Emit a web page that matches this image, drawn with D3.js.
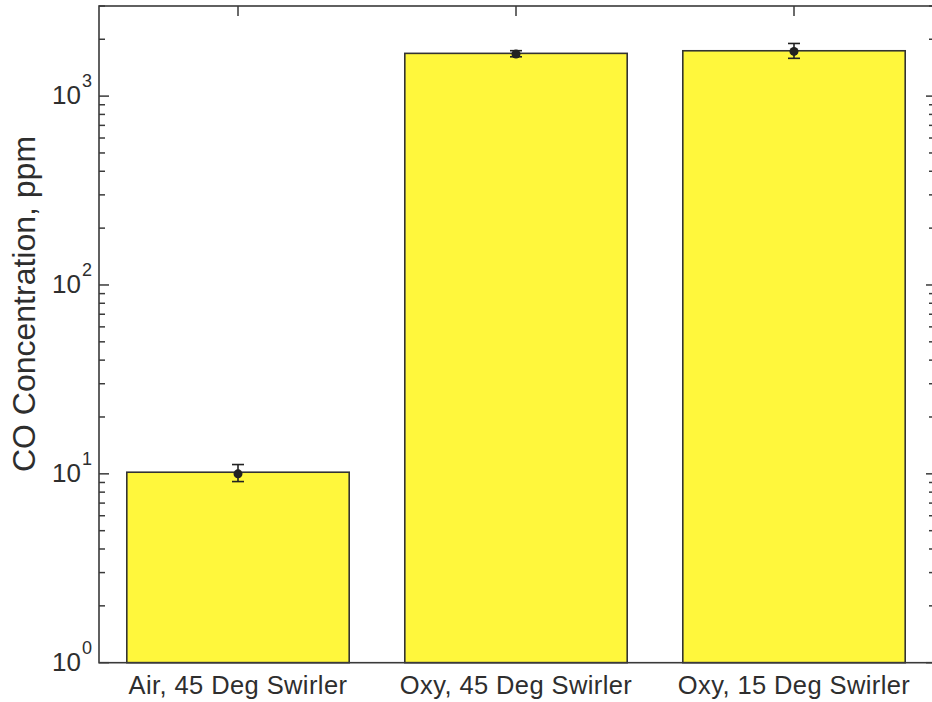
<!DOCTYPE html>
<html>
<head>
<meta charset="utf-8">
<script src="https://cdn.jsdelivr.net/npm/d3@7"></script>
<style>
  html, body { margin: 0; padding: 0; background: #fff; }
  svg { display: block; font-family: "Liberation Sans", Arial, Helvetica, sans-serif; }
</style>
</head>
<body>
<svg id="chart" width="932" height="702"></svg>
<script>
// CO concentration measured for three burner configurations
const categories = ["Air, 45 Deg Swirler", "Oxy, 45 Deg Swirler", "Oxy, 15 Deg Swirler"];
const barValues  = [10.2, 1684, 1738];   // bar heights, ppm
const meanValues = [10.0, 1672, 1725];   // measured mean, ppm
const errLow     = [9.1, 1615, 1585];    // lower end of error bar, ppm
const errHigh    = [11.2, 1740, 1900];   // upper end of error bar, ppm
const yDomain    = [1, 3000];
const yMajorTicks = [1, 10, 100, 1000];
const yTickExponents = ["0", "1", "2", "3"];
const yTitle = "CO Concentration, ppm";

const svg = d3.select("#chart");
const margin = { left: 99, right: 933, top: 6, bottom: 662.7 };

const x = d3.scaleBand()
  .domain(categories)
  .range([margin.left, margin.right])
  .paddingInner(0.2)
  .paddingOuter(0.1);

const y = d3.scaleLog()
  .domain(yDomain)
  .range([margin.bottom, margin.top]);

const axisColor = "#3a3a3a";
const textColor = "#2e2e2e";

// minor ticks: 2..9 of each decade inside the domain
const minorTicks = [];
for (let p = 0; p <= 3; p++) {
  for (let m = 2; m <= 9; m++) {
    const v = m * Math.pow(10, p);
    if (v <= yDomain[1]) minorTicks.push(v);
  }
}

// category ticks on top and bottom edges (bottom ones sit behind the bars)
const xTicks = svg.append("g");
x.domain().forEach(c => {
  const cx = x(c) + x.bandwidth() / 2;
  xTicks.append("line").attr("x1", cx).attr("x2", cx)
    .attr("y1", margin.top).attr("y2", margin.top + 10)
    .attr("stroke", axisColor).attr("stroke-width", 1.5);
  xTicks.append("line").attr("x1", cx).attr("x2", cx)
    .attr("y1", margin.bottom).attr("y2", margin.bottom - 10)
    .attr("stroke", axisColor).attr("stroke-width", 1.5);
});

// bars
svg.append("g").selectAll("rect")
  .data(categories)
  .join("rect")
  .attr("x", d => x(d))
  .attr("width", x.bandwidth())
  .attr("y", (d, i) => y(barValues[i]))
  .attr("height", (d, i) => y(yDomain[0]) - y(barValues[i]))
  .attr("fill", "#fff73c")
  .attr("stroke", "#333")
  .attr("stroke-width", 1.6);

// left and right y ticks, pointing inward
const yTicksG = svg.append("g").attr("stroke", axisColor).attr("stroke-width", 1.5);
yMajorTicks.forEach(v => {
  yTicksG.append("line").attr("x1", margin.left).attr("x2", margin.left + 10)
    .attr("y1", y(v)).attr("y2", y(v));
  yTicksG.append("line").attr("x1", margin.right).attr("x2", margin.right - 7)
    .attr("y1", y(v)).attr("y2", y(v));
});
minorTicks.forEach(v => {
  yTicksG.append("line").attr("x1", margin.left).attr("x2", margin.left + 6)
    .attr("y1", y(v)).attr("y2", y(v));
  yTicksG.append("line").attr("x1", margin.right).attr("x2", margin.right - 4)
    .attr("y1", y(v)).attr("y2", y(v));
});

// plot frame
svg.append("rect")
  .attr("x", margin.left).attr("y", margin.top)
  .attr("width", margin.right - margin.left)
  .attr("height", margin.bottom - margin.top)
  .attr("fill", "none")
  .attr("stroke", axisColor).attr("stroke-width", 1.6);

// error bars with mean markers
const err = svg.append("g").attr("stroke", "#222").attr("stroke-width", 1.6);
categories.forEach((c, i) => {
  const cx = x(c) + x.bandwidth() / 2;
  err.append("line").attr("x1", cx).attr("x2", cx)
    .attr("y1", y(errLow[i])).attr("y2", y(errHigh[i]));
  [errLow[i], errHigh[i]].forEach(v => {
    err.append("line").attr("x1", cx - 6).attr("x2", cx + 6)
      .attr("y1", y(v)).attr("y2", y(v));
  });
  err.append("circle").attr("cx", cx).attr("cy", y(meanValues[i]))
    .attr("r", 4.5).attr("fill", "#222").attr("stroke", "none");
});

// y tick labels as powers of ten
yMajorTicks.forEach((v, i) => {
  const t = svg.append("text")
    .attr("x", 52).attr("y", y(v) + 8)
    .attr("fill", textColor)
    .attr("font-size", 26);
  t.append("tspan").text("10");
  t.append("tspan").attr("dy", -17).attr("dx", 1).attr("font-size", 18).text(yTickExponents[i]);
});

// category labels
categories.forEach(c => {
  svg.append("text")
    .attr("x", x(c) + x.bandwidth() / 2)
    .attr("y", 694)
    .attr("text-anchor", "middle")
    .attr("fill", textColor)
    .attr("font-size", 25.5)
    .attr("letter-spacing", 0.4)
    .text(c);
});

// y axis title
svg.append("text")
  .attr("transform", "translate(35, 304) rotate(-90)")
  .attr("text-anchor", "middle")
  .attr("fill", textColor)
  .attr("font-size", 32)
  .text(yTitle);
</script>
</body>
</html>
